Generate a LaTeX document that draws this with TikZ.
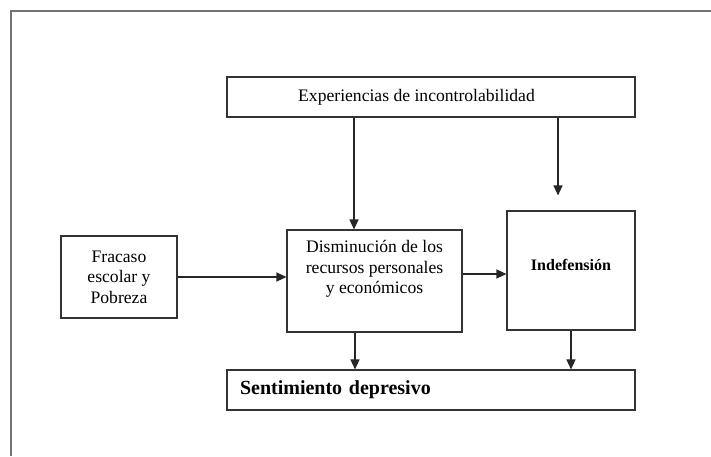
\documentclass[tikz,border=0pt]{standalone}
\usepackage{fontspec}
\setmainfont{Liberation Serif}
\usetikzlibrary{positioning,arrows.meta}

\begin{document}
\begin{tikzpicture}[
    x=1pt, y=-1pt,
    arrowstyle/.style={draw, black!85, line width=1.1pt, -{Triangle[length=10pt,width=9pt]}},
    block/.style={rectangle, draw=black!80, line width=1.1pt, inner sep=0pt,
        font=\fontsize{17.6}{20.5}\selectfont, align=center},
    boldblock/.style={block, font=\fontsize{16}{19}\selectfont\bfseries},
    frame/.style={draw=black!55, line width=2pt}
]
\useasboundingbox (0,0) rectangle (711,456);
\draw[frame] (11,456) -- (11,11) -- (711,11);

\node (exper) [block, minimum width=408pt, minimum height=40pt] at (431,97) {\hspace*{-29pt}Experiencias de incontrolabilidad};
\node (fracaso) [block, minimum width=116pt, minimum height=82pt] at (119,277) {Fracaso\\escolar y\\Pobreza};
\node (dismin) [block, minimum width=175pt, minimum height=102pt] at (374.5,281) {};
\node (dismintext) [block, draw=none, below=10.5pt of dismin.north] {Disminución de los\\recursos personales\\y económicos};
\node (indef) [boldblock, minimum width=128pt, text height=59pt, text depth=60pt] at (571,270.5) {Indefensión};
\node (sentim) [block, font=\fontsize{20}{24}\selectfont\bfseries, text width=382pt, align=left,
    inner xsep=13pt, minimum height=40pt] at (431,390) {Sentimiento depresivo};

% connectors
\draw[arrowstyle] (fracaso.east) -- (fracaso.east -| dismin.west);
\draw[arrowstyle] ([yshift=7pt]dismin.east) -- ([yshift=7pt]dismin.east -| indef.west);
\draw[arrowstyle] ([xshift=-20.5pt]dismin.north |- exper.south) -- ([xshift=-20.5pt]dismin.north);
\draw[arrowstyle] ([xshift=-13pt]indef.north |- exper.south) -- ([xshift=-13pt,yshift=15pt]indef.north);
\draw[arrowstyle] ([xshift=-19.5pt]dismin.south) -- ([xshift=-19.5pt]dismin.south |- sentim.north);
\draw[arrowstyle] (indef.south) -- (indef.south |- sentim.north);
\end{tikzpicture}
\end{document}
